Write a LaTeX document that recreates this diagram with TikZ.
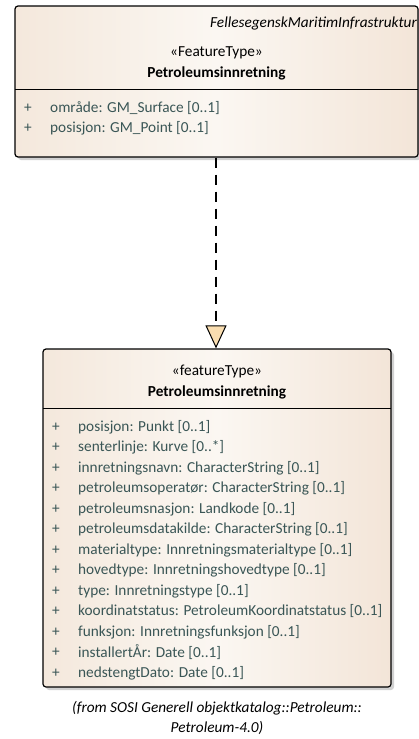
\documentclass[tikz,border=0pt]{standalone}
\usepackage{fontspec}
\setmainfont{Carlito}
\usetikzlibrary{arrows.meta, positioning, shadows}
\definecolor{boxleft}{HTML}{F4E8DC}
\definecolor{boxmid}{HTML}{FBF7F2}
\definecolor{boxright}{HTML}{F3E5D8}
\definecolor{attrtext}{HTML}{3A5656}
\definecolor{tipfill}{HTML}{F9DDB0}
\tikzset{
  classbox/.style={draw, line width=1.2pt, rounded corners=3pt,
    left color=boxleft, right color=boxright, middle color=boxmid,
    drop shadow={shadow xshift=3pt, shadow yshift=-3pt, fill=black!18, opacity=1}},
  stereo/.style={font=\fontsize{15.3}{17}\selectfont, inner sep=0pt},
  cname/.style={font=\fontsize{15.3}{17}\selectfont\bfseries, inner sep=0pt},
  attr/.style={font=\fontsize{15.3}{17}\selectfont, text=attrtext, inner sep=0pt, anchor=west},
  realize/.style={line width=1.1pt, dash pattern=on 10pt off 7pt,
    -{Triangle[open, width=21pt, length=23pt, fill=tipfill, line width=1pt, sep=0pt]}}
}
\begin{document}
\begin{tikzpicture}[x=1pt, y=-1pt]
\useasboundingbox (0,0) rectangle (419,739);

% ovre klasse
\node[classbox, minimum width=403pt, minimum height=151pt, inner sep=0pt] (sup) at (216.5,81.5) {};
\draw[line width=0.9pt] (15,89) -- (418,89);
\node[stereo, font=\fontsize{15.3}{17}\selectfont\itshape, anchor=east] (pkg) at (417,23) {FellesegenskMaritimInfrastruktur};
\node[stereo] (supstereo) at (216.5,53) {«FeatureType»};
\node[cname] (supname) at (216.5,73) {Petroleumsinnretning};
\foreach \y/\txt in {108/område: GM\_Surface [0..1], 128/posisjon: GM\_Point [0..1]} {
  \node[attr] at (24,\y) {+};
  \node[attr] at (50,\y) {\txt};
}

% nedre klasse
\node[classbox, minimum width=348pt, minimum height=338pt, inner sep=0pt] (sub) at (217,518) {};
\draw[line width=0.9pt] (43,408) -- (391,408);
\node[stereo] (substereo) at (217,371) {«featureType»};
\node[cname] (subname) at (217,392) {Petroleumsinnretning};
\foreach \txt [count=\i from 0] in {
  posisjon: Punkt [0..1],
  senterlinje: Kurve [0..*],
  innretningsnavn: CharacterString [0..1],
  petroleumsoperatør: CharacterString [0..1],
  petroleumsnasjon: Landkode [0..1],
  petroleumsdatakilde: CharacterString [0..1],
  materialtype: Innretningsmaterialtype [0..1],
  hovedtype: Innretningshovedtype [0..1],
  type: Innretningstype [0..1],
  koordinatstatus: PetroleumKoordinatstatus [0..1],
  funksjon: Innretningsfunksjon [0..1],
  installertÅr: Date [0..1],
  nedstengtDato: Date [0..1]} {
  \node[attr] at (52,427+20.5*\i) {+};
  \node[attr] at (78,427+20.5*\i) {\txt};
}

% pakke
\node[font=\fontsize{15.3}{20}\selectfont\itshape, align=center, inner sep=0pt] (from) at (217,718)
  {(from SOSI Generell objektkatalog::Petroleum::\\Petroleum-4.0)};

% realisering
\draw[realize] (sup.south -| 216,0) -- (sub.north -| 216,0);
\end{tikzpicture}
\end{document}
